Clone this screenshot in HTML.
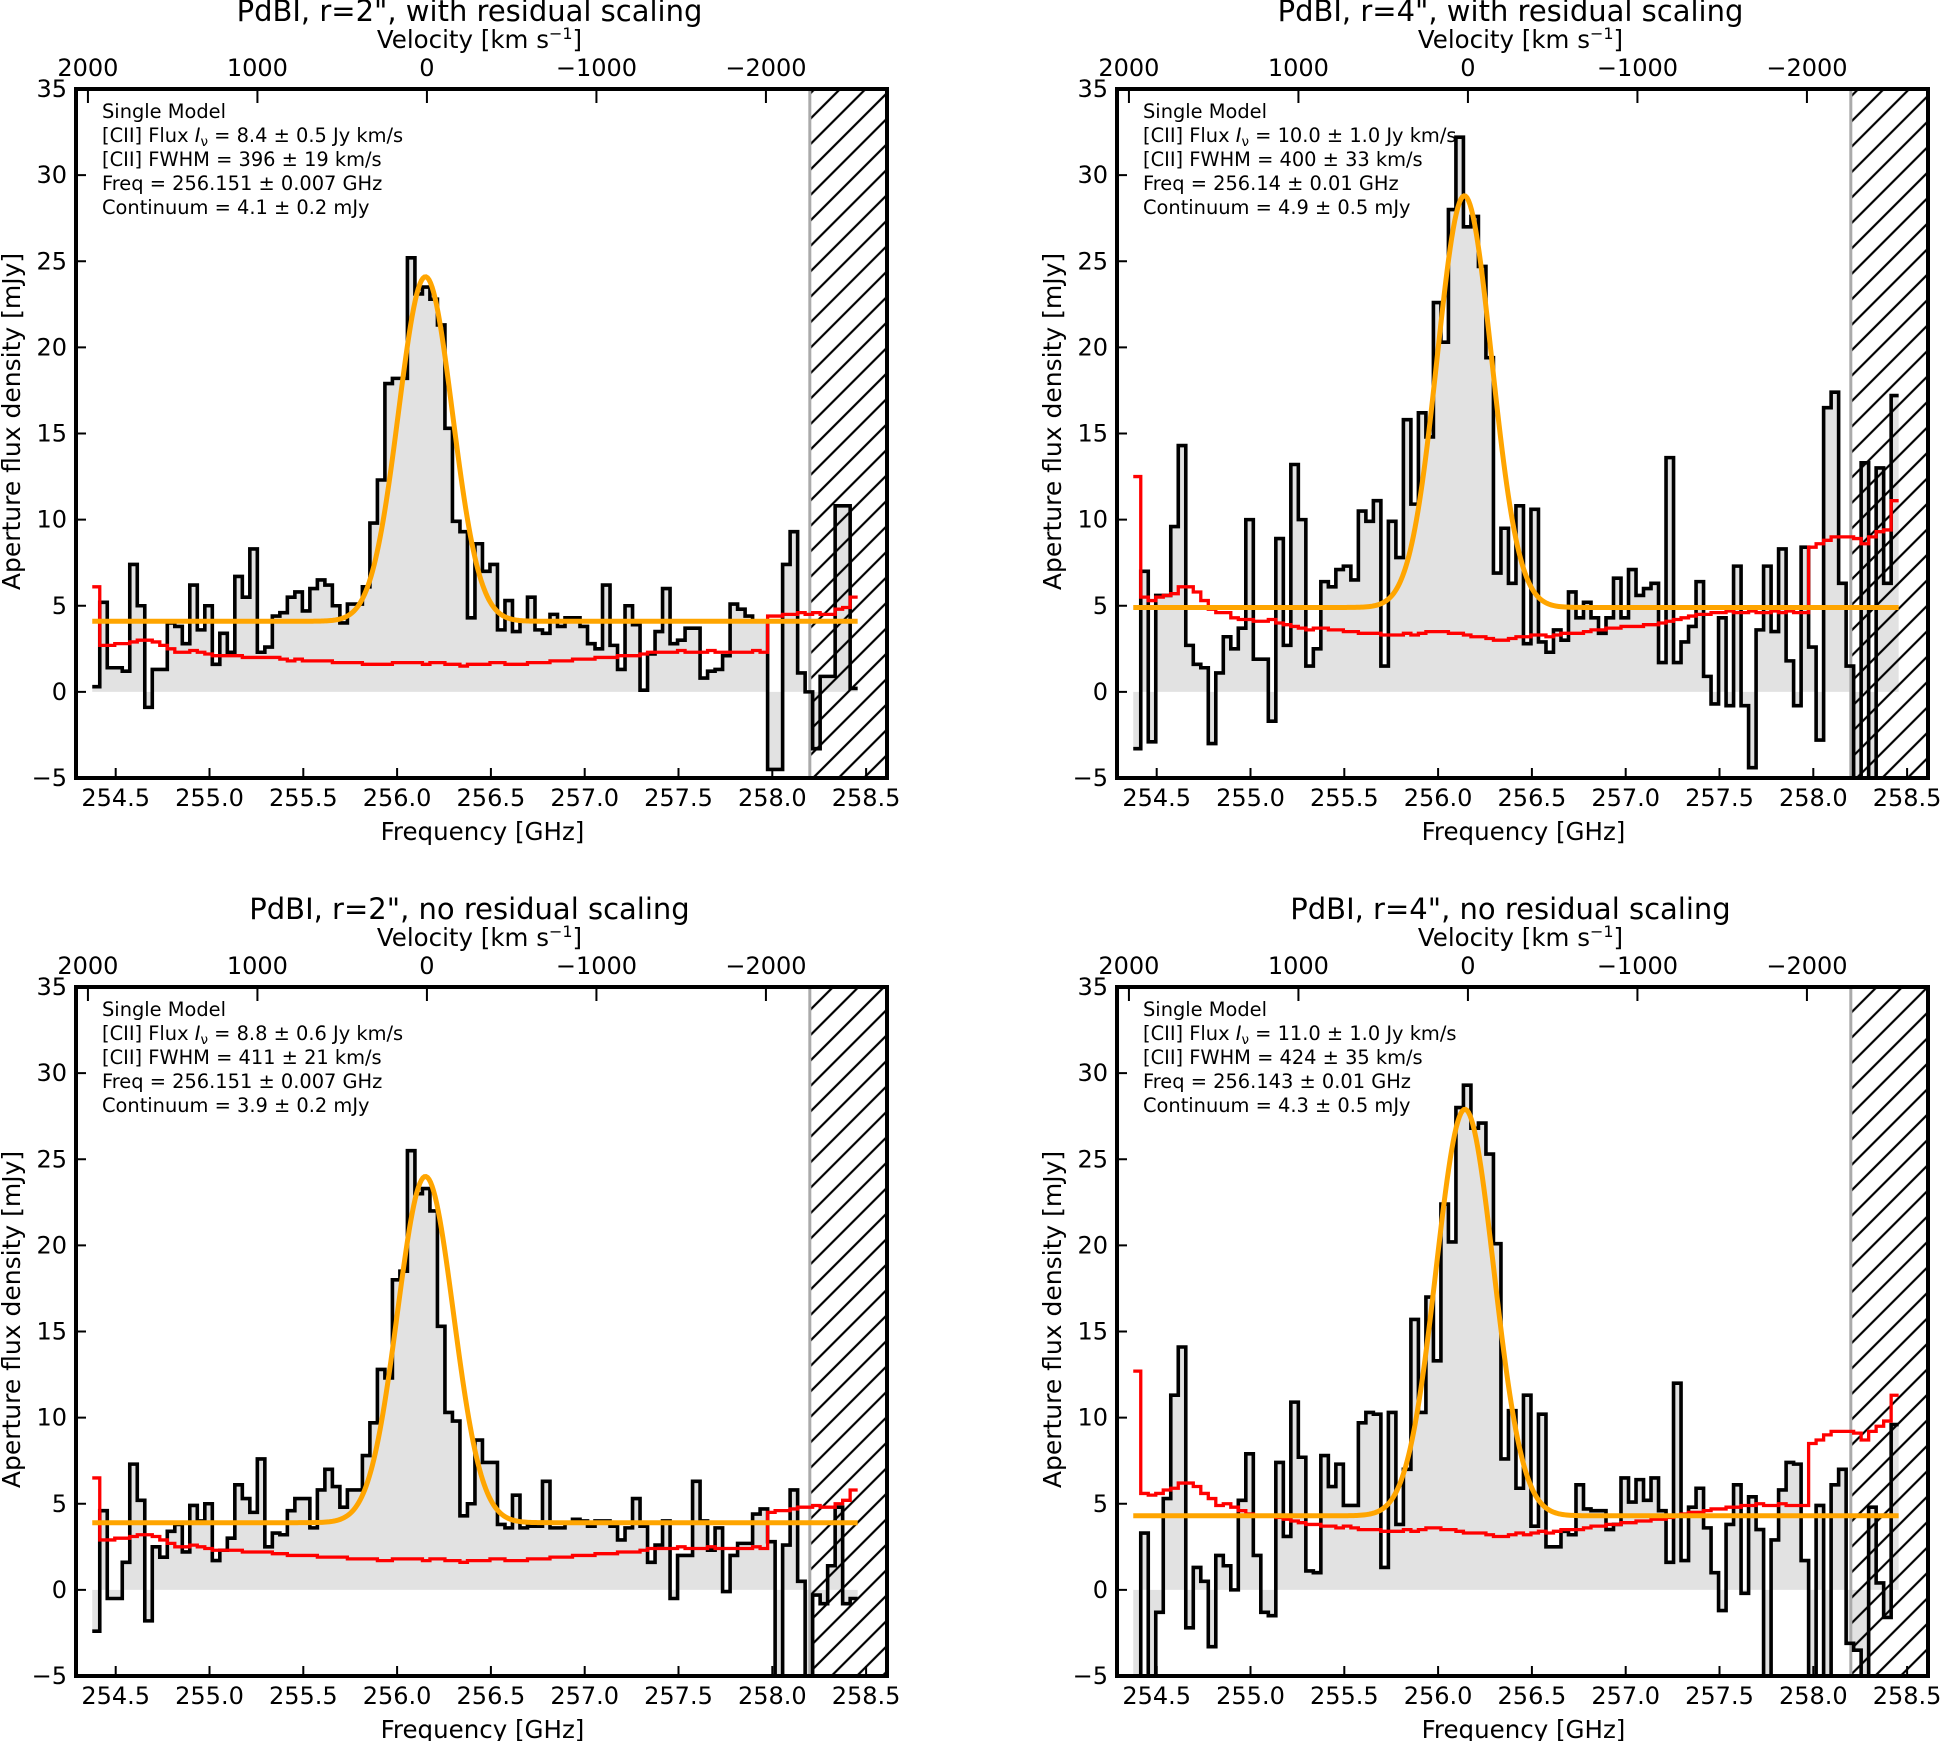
<!DOCTYPE html>
<html><head><meta charset="utf-8">
<style>
html,body{margin:0;padding:0;background:#fff;}
svg{display:block;font-family:"DejaVu Sans","Liberation Sans",sans-serif;}
</style></head>
<body>
<svg id="fig" xmlns="http://www.w3.org/2000/svg" width="1941" height="1741" viewBox="0 0 1941 1741">
<defs>
<pattern id="hatch" patternUnits="userSpaceOnUse" width="18" height="18" patternTransform="rotate(45)">
<line x1="9" y1="0" x2="9" y2="18" stroke="#000" stroke-width="2.2"/>
</pattern>
</defs>
</svg>
<script>
// ---- data ----
const binStart = 254.375;
const binWidth = 0.04;
const freqTicks = [254.5,255.0,255.5,256.0,256.5,257.0,257.5,258.0,258.5];
const freqTickLabels = ["254.5","255.0","255.5","256.0","256.5","257.0","257.5","258.0","258.5"];
const yTicks = [-5,0,5,10,15,20,25,30,35];
const velTicks = [2000,1000,0,-1000,-2000];
const velTickLabels = ["2000","1000","0","\u22121000","\u22122000"];
const panelTitles = ["PdBI, r=2\", with residual scaling","PdBI, r=4\", with residual scaling","PdBI, r=2\", no residual scaling","PdBI, r=4\", no residual scaling"];
const fluxText = ["8.4 \u00b1 0.5","10.0 \u00b1 1.0","8.8 \u00b1 0.6","11.0 \u00b1 1.0"];
const fwhmText = ["396 \u00b1 19","400 \u00b1 33","411 \u00b1 21","424 \u00b1 35"];
const freqText = ["256.151 \u00b1 0.007","256.14 \u00b1 0.01","256.151 \u00b1 0.007","256.143 \u00b1 0.01"];
const contText = ["4.1 \u00b1 0.2","4.9 \u00b1 0.5","3.9 \u00b1 0.2","4.3 \u00b1 0.5"];
const modelContinuum = [4.1,4.9,3.9,4.3];
const modelAmplitude = [20.0,23.9,20.1,23.6];
const modelCenter = [256.151,256.14,256.151,256.143];
const modelFwhm = [396,400,411,424];
const maskStart = 258.2;

const p1Flux = [0.3,5.2,1.4,1.4,1.2,7.4,5.0,-0.9,1.3,1.3,
 4.0,3.8,2.8,6.2,3.6,5.0,1.6,3.4,2.3,6.7,
 5.5,8.3,2.3,2.6,4.4,4.6,5.5,5.8,4.7,6.0,
 6.5,6.2,5.0,4.0,5.1,5.1,6.1,9.8,12.3,17.9,
 18.2,18.2,25.2,23.1,23.5,22.8,21.3,15.3,9.9,9.3,
 4.3,8.6,7.0,7.4,3.6,5.3,3.5,4.1,5.5,3.6,
 3.4,4.5,3.8,4.3,4.3,3.8,2.8,2.5,6.2,2.7,
 1.3,5.0,3.9,0.1,2.2,3.5,6.0,2.8,3.0,3.7,
 3.7,0.8,1.2,1.3,2.1,5.1,4.8,4.4,4.1,4.1,
 -4.5,-4.5,7.4,9.3,1.1,0.0,-3.3,0.9,0.9,10.8,
 10.8,0.2];
const p1Noise = [6.1,2.7,2.7,2.8,2.8,2.9,3.0,3.0,2.9,2.7,
 2.5,2.3,2.3,2.4,2.3,2.2,2.1,2.1,2.1,2.1,
 2.0,2.0,2.0,2.0,2.0,1.9,1.8,1.9,1.8,1.8,
 1.8,1.8,1.7,1.7,1.7,1.7,1.6,1.6,1.6,1.6,
 1.7,1.7,1.7,1.7,1.6,1.7,1.7,1.6,1.6,1.5,
 1.6,1.6,1.6,1.7,1.7,1.6,1.6,1.6,1.7,1.7,
 1.7,1.8,1.8,1.8,1.9,1.9,1.9,2.0,2.0,2.0,
 2.1,2.1,2.1,2.2,2.3,2.3,2.3,2.3,2.4,2.3,
 2.3,2.3,2.4,2.3,2.3,2.3,2.3,2.3,2.4,2.3,
 4.4,4.4,4.5,4.5,4.6,4.5,4.6,4.5,4.5,4.8,
 4.9,5.5];
const p2Flux = [-3.3,7.0,-2.9,5.6,5.6,9.6,14.3,2.7,1.6,1.4,
 -3.0,1.1,3.2,2.5,3.7,10.0,1.9,1.9,-1.7,8.9,
 2.7,13.2,10.0,1.5,2.5,6.4,6.1,7.1,7.3,6.5,
 10.5,9.9,11.1,1.5,9.9,7.8,15.8,10.9,16.2,14.8,
 22.6,20.3,28.0,32.2,27.0,27.6,24.7,19.4,6.9,9.5,
 6.3,10.8,2.8,10.6,2.9,2.3,3.6,3.0,5.8,4.3,
 5.2,4.3,3.4,4.3,6.6,4.3,7.1,5.6,6.0,6.3,
 1.7,13.6,1.7,2.9,3.8,6.4,0.9,-0.7,4.3,-0.8,
 7.3,-0.8,-4.4,3.6,7.3,3.5,8.3,1.8,-0.8,8.4,
 2.6,-2.8,16.5,17.4,6.3,1.5,-5.5,13.3,-5.5,13.0,
 6.3,17.2];
const p2Noise = [12.5,5.5,5.3,5.5,5.6,5.7,6.1,6.1,5.8,5.3,
 4.8,4.6,4.6,4.3,4.2,4.2,4.1,4.1,4.2,4.0,
 3.9,3.8,3.7,3.6,3.7,3.7,3.6,3.6,3.5,3.5,
 3.4,3.4,3.4,3.3,3.3,3.3,3.4,3.3,3.4,3.5,
 3.5,3.5,3.4,3.4,3.3,3.2,3.2,3.1,3.0,3.0,
 3.1,3.2,3.2,3.3,3.3,3.2,3.3,3.4,3.4,3.4,
 3.5,3.6,3.6,3.7,3.7,3.8,3.8,3.8,3.9,3.9,
 4.0,4.1,4.2,4.3,4.4,4.5,4.5,4.6,4.6,4.7,
 4.6,4.6,4.7,4.6,4.6,4.7,4.6,4.7,4.6,4.6,
 8.4,8.6,8.8,9.0,9.0,9.0,8.9,8.6,9.0,9.3,
 9.4,11.1];
const p3Flux = [-2.4,4.6,-0.5,-0.5,1.6,7.3,5.2,-1.8,2.5,1.9,
 3.4,3.8,2.2,4.9,4.0,5.0,1.7,2.3,3.0,6.1,
 5.3,4.5,7.6,2.5,3.3,3.2,4.6,5.3,5.3,3.6,
 5.8,7.0,6.0,4.8,5.8,5.8,7.8,9.7,12.8,12.3,
 18.0,18.5,25.5,23.0,23.3,22.0,15.3,10.3,9.8,4.3,
 5.0,8.7,7.4,7.4,3.8,3.6,5.5,3.6,3.7,3.7,
 6.3,3.6,3.6,3.9,4.1,4.0,3.7,4.0,4.0,3.7,
 2.9,3.6,5.3,3.7,1.6,2.6,4.0,-0.5,2.0,2.0,
 6.3,4.0,2.3,3.6,-0.1,2.0,2.7,2.7,4.4,4.7,
 2.8,-6.0,2.6,5.8,0.5,-6.0,-0.3,-0.8,1.4,4.8,
 -0.8,-0.5];
const p3Noise = [6.5,2.9,2.9,3.0,3.0,3.1,3.2,3.2,3.1,2.9,
 2.7,2.5,2.5,2.6,2.5,2.4,2.3,2.3,2.3,2.3,
 2.2,2.2,2.2,2.2,2.1,2.1,2.0,2.0,2.0,2.0,
 1.9,1.9,1.9,1.9,1.8,1.8,1.8,1.8,1.7,1.7,
 1.8,1.8,1.8,1.8,1.7,1.8,1.8,1.7,1.7,1.6,
 1.7,1.7,1.7,1.8,1.8,1.7,1.7,1.7,1.8,1.8,
 1.8,1.9,1.9,1.9,2.0,2.0,2.0,2.1,2.1,2.1,
 2.2,2.2,2.2,2.3,2.4,2.4,2.4,2.4,2.5,2.4,
 2.4,2.4,2.5,2.4,2.4,2.4,2.4,2.4,2.5,2.4,
 4.5,4.6,4.6,4.7,4.8,4.8,4.9,4.8,4.8,5.0,
 5.2,5.8];
const p4Flux = [-6.0,3.3,-6.0,-1.3,5.3,11.3,14.1,-2.2,1.3,0.5,
 -3.3,2.0,1.4,0.0,5.2,7.9,2.0,-1.3,-1.5,7.4,
 3.1,10.9,7.7,1.1,1.0,7.8,6.0,7.3,4.9,4.9,
 9.7,10.3,10.2,1.3,10.3,3.8,7.0,15.7,10.3,17.0,
 13.3,22.4,20.2,28.0,29.3,26.8,27.1,25.3,20.1,7.6,
 10.4,5.9,11.3,3.7,10.2,2.5,2.5,3.4,3.2,6.1,
 4.7,4.6,4.6,3.5,3.8,6.5,5.1,6.4,5.2,6.5,
 4.6,1.6,12.0,1.7,4.8,5.9,3.6,1.0,-1.2,3.8,
 6.1,-0.2,5.4,3.5,-6.0,2.9,5.8,7.4,7.3,1.7,
 -6.0,4.9,-6.0,6.1,7.0,-3.1,-3.5,-6.0,4.8,0.4,
 -1.6,9.6];
const p4Noise = [12.7,5.6,5.5,5.6,5.8,5.9,6.2,6.2,6.0,5.6,
 5.3,4.9,5.0,4.8,4.6,4.4,4.3,4.3,4.3,4.2,
 4.1,4.0,3.9,3.8,3.8,3.7,3.7,3.6,3.7,3.6,
 3.5,3.5,3.5,3.4,3.4,3.4,3.5,3.4,3.5,3.6,
 3.6,3.5,3.5,3.4,3.3,3.3,3.3,3.2,3.1,3.1,
 3.2,3.3,3.2,3.3,3.4,3.3,3.4,3.5,3.5,3.5,
 3.6,3.7,3.7,3.8,3.8,3.9,3.9,4.0,4.0,4.1,
 4.1,4.2,4.3,4.4,4.5,4.5,4.6,4.7,4.7,4.8,
 4.8,4.9,4.9,5.0,4.9,4.9,5.0,4.9,4.9,4.9,
 8.5,8.7,9.0,9.2,9.2,9.2,9.1,8.7,9.2,9.5,
 9.8,11.3];

const fluxSeries = [p1Flux,p2Flux,p3Flux,p4Flux];
const noiseSeries = [p1Noise,p2Noise,p3Noise,p4Noise];

// ---- layout ----
const NS = "http://www.w3.org/2000/svg";
const svg = document.getElementById('fig');
const panelOffsets = [[0,0],[1041,0],[0,898],[1041,898]];
const AX = {left:76, right:887, top:89, bottom:778};
const F0PX = 115.7, PXPERGHZ = 187.6, PXPERUNIT = (778-89)/40;
const VEL0F = 256.159, PXPERKMS = 0.1695;

function mk(tag, attrs, parent){
  const e = document.createElementNS(NS, tag);
  for (const k in attrs) e.setAttribute(k, attrs[k]);
  (parent||svg).appendChild(e);
  return e;
}

for (let p=0; p<4; p++){
  const ox = panelOffsets[p][0], oy = panelOffsets[p][1];
  const xs = f => ox + F0PX + (f-254.5)*PXPERGHZ;
  const ys = v => oy + AX.top + (35-v)*PXPERUNIT;
  const L = ox+AX.left, R = ox+AX.right, T = oy+AX.top, B = oy+AX.bottom;

  const g = mk('g', {});
  
  

  const clip = mk('clipPath', {id:'clip'+p}, g);
  mk('rect', {x:L, y:T, width:R-L, height:B-T}, clip);
  const plot = mk('g', {'clip-path':'url(#clip'+p+')'}, g);

  const flux = fluxSeries[p], noise = noiseSeries[p];
  const n = flux.length;
  const edge = k => binStart + k*binWidth;

  let fd = 'M'+xs(edge(0))+','+ys(0);
  for (let k=0;k<n;k++){ fd += ' L'+xs(edge(k))+','+ys(flux[k])+' L'+xs(edge(k+1))+','+ys(flux[k]); }
  fd += ' L'+xs(edge(n))+','+ys(0)+' Z';
  const fill = mk('path', {d:fd, fill:'#e2e2e2', stroke:'none'}, plot);
  
  

  const hx = xs(maskStart);
  const hatch = mk('rect', {x:hx, y:T, width:R-hx, height:B-T, fill:'url(#hatch)'}, plot);
  
  
  const ml = mk('line', {x1:hx, y1:T, x2:hx, y2:B, stroke:'#aaaaaa', 'stroke-width':3}, plot);
  
  

  let sd = 'M'+xs(edge(0))+','+ys(flux[0]);
  for (let k=0;k<n;k++){ sd += ' L'+xs(edge(k))+','+ys(flux[k])+' L'+xs(edge(k+1))+','+ys(flux[k]); }
  const step = mk('path', {d:sd, fill:'none', stroke:'#000', 'stroke-width':3.6, 'stroke-linejoin':'miter'}, plot);
  
  

  let rd = 'M'+xs(edge(0))+','+ys(noise[0]);
  for (let k=0;k<noise.length;k++){ rd += ' L'+xs(edge(k))+','+ys(noise[k])+' L'+xs(edge(k+1))+','+ys(noise[k]); }
  const red = mk('path', {d:rd, fill:'none', stroke:'#ff0000', 'stroke-width':3.3}, plot);
  
  

  const c0 = modelCenter[p];
  const sig = modelFwhm[p]/299792.458*c0/2.3548;
  let od = '';
  const f1 = edge(0), f2 = edge(n);
  for (let i=0;i<=500;i++){
    const f = f1 + (f2-f1)*i/500;
    const v = modelContinuum[p] + modelAmplitude[p]*Math.exp(-0.5*Math.pow((f-c0)/sig,2));
    od += (i?' L':'M')+xs(f).toFixed(2)+','+ys(v).toFixed(2);
  }
  const model = mk('path', {d:od, fill:'none', stroke:'#ffa500', 'stroke-width':5}, plot);
  
  

  const frame = mk('rect', {x:L, y:T, width:R-L, height:B-T, fill:'none', stroke:'#000', 'stroke-width':4}, g);
  
  

  for (let i=0;i<freqTicks.length;i++){
    const x = xs(freqTicks[i]);
    mk('line', {x1:x, y1:B, x2:x, y2:B-10, stroke:'#000', 'stroke-width':2}, g);
    const t = mk('text', {x:x, y:B+28, 'font-size':24, 'text-anchor':'middle'}, g);
    t.textContent = freqTickLabels[i];
    
    
  }
  for (let i=0;i<yTicks.length;i++){
    const y = ys(yTicks[i]);
    mk('line', {x1:L, y1:y, x2:L+10, y2:y, stroke:'#000', 'stroke-width':2}, g);
    const t = mk('text', {x:L-9, y:y+8, 'font-size':24, 'text-anchor':'end'}, g);
    t.textContent = (yTicks[i]<0?'\u2212':'')+Math.abs(yTicks[i]);
    
    
  }
  for (let i=0;i<velTicks.length;i++){
    const x = xs(VEL0F) - velTicks[i]*PXPERKMS;
    mk('line', {x1:x, y1:T, x2:x, y2:T+14, stroke:'#000', 'stroke-width':2}, g);
    const t = mk('text', {x:x, y:oy+76, 'font-size':24, 'text-anchor':'middle'}, g);
    t.textContent = velTickLabels[i];
    
    
  }
  const cx = (L+R)/2;
  const title = mk('text', {x:cx-12, y:oy+21, 'font-size':29, 'text-anchor':'middle'}, g);
  title.textContent = panelTitles[p];
  
  

  const vt = mk('text', {x:cx-2, y:oy+48, 'font-size':24.5, 'text-anchor':'middle'}, g);
  vt.innerHTML = 'Velocity [km s<tspan baseline-shift="super" font-size="16">\u22121</tspan>]';
  
  

  const xt = mk('text', {x:cx+1, y:B+62, 'font-size':24.5, 'text-anchor':'middle'}, g);
  xt.textContent = 'Frequency [GHz]';
  
  

  const yl = mk('text', {x:0, y:0, 'font-size':25, 'text-anchor':'middle', transform:'translate('+(ox+20)+','+((T+B)/2-12)+') rotate(-90)'}, g);
  yl.textContent = 'Aperture flux density [mJy]';
  
  

  const ann = mk('g', {'font-size':19.4}, g);
  
  
  const ax0 = L+26, base = oy+118, dy = 24;
  const lines = [
    'Single Model',
    '[CII] Flux <tspan font-style="italic">I</tspan><tspan font-size="13.5" dy="4">\u03bd</tspan><tspan dy="-4"> = '+fluxText[p]+' Jy km/s</tspan>',
    '[CII] FWHM = '+fwhmText[p]+' km/s',
    'Freq = '+freqText[p]+' GHz',
    'Continuum = '+contText[p]+' mJy'
  ];
  for (let i=0;i<lines.length;i++){
    const t = mk('text', {x:ax0, y:base+i*dy}, ann);
    t.innerHTML = lines[i];
  }
}
</script>
</body></html>
